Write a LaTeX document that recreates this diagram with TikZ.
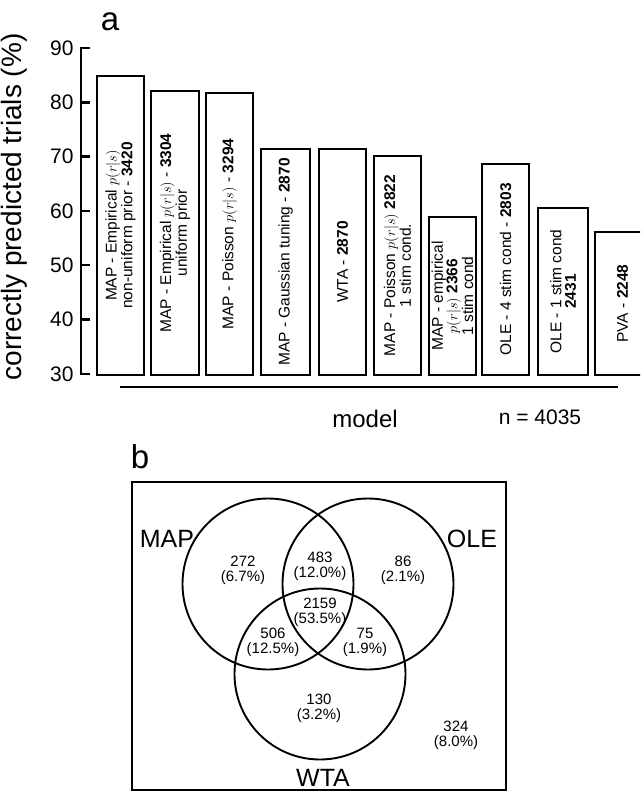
\documentclass[tikz,border=0pt]{standalone}
\usepackage{fontspec}
\setmainfont{Liberation Sans}
\usetikzlibrary{positioning}

\tikzset{
  bar/.style={draw, line width=2.4pt},
  barlabel/.style={rotate=90, align=center, inner sep=0pt,
    font=\fontsize{15.5}{14.5}\selectfont},
  venn/.style={draw, circle, line width=1.9pt, minimum size=171pt, inner sep=0pt},
  count/.style={align=center, font=\fontsize{15}{15}\selectfont},
  setname/.style={font=\fontsize{25}{25}\selectfont},
  panel/.style={font=\fontsize{33}{33}\selectfont},
}

\begin{document}
\begin{tikzpicture}[x=1pt, y=-1pt]
    \path[use as bounding box] (0,0) rectangle (640,792);
    \clip (0,0) rectangle (640,792);

    % panel a
    \node[panel] (pa) at (110,22) {a};
    \draw[line width=2.4pt] (90,48) -- (81,48) -- (81,374) -- (90,374);
    \foreach \v [count=\i from 0] in {90,80,...,30} {
      \draw[line width=2.4pt] (81,48+\i*54.3) -- (90,48+\i*54.3);
      \node[anchor=east, font=\fontsize{21}{21}\selectfont] (tick\v) at (77,48+\i*54.3) {\v};
    }
    \node[rotate=90, anchor=base, font=\fontsize{28}{28}\selectfont] (ylab) at (21,207)
      {correctly predicted trials (\%)};

    \foreach \l/\r/\t/\txt [count=\n] in {
      97/144/76/{MAP - Empirical $p(r|s)$\\non-uniform prior - \textbf{3420}},
      151/199/91/{MAP - Empirical $p(r|s)$ - \textbf{3304}\\uniform prior},
      206/253/93/{MAP - Poisson $p(r|s)$ - \textbf{3294}},
      261/310/149/{MAP - Gaussian tuning - \textbf{2870}},
      319/366/149/{WTA - \textbf{2870}},
      374/421/156/{MAP - Poisson $p(r|s)$ \textbf{2822}\\1 stim cond.},
      429/476/217/{\baselineskip=12pt MAP - empirical\\$p(r|s)$ \textbf{2366}\\1 stim cond},
      482/529/164/{OLE - 4 stim cond - \textbf{2803}},
      538/588/208/{OLE - 1 stim cond\\\textbf{2431}},
      595/650/232/{PVA - \textbf{2248}}} {
      \draw[bar] (\l,375) rectangle (\r,\t);
      \node[barlabel] (bar\n) at ({(\l+\r)/2},{(\t+375)/2}) {\txt};
    }
    \draw[line width=2.4pt] (120,387) coordinate (ml) -- (618,387) coordinate (mr);
    \node[font=\fontsize{24}{24}\selectfont] (model) at (365,419) {model};
    \node[font=\fontsize{21}{21}\selectfont] (ntot) at (540,417) {n = 4035};

    % panel b
    \node[panel] (pb) at (140,457) {b};
    \draw[line width=1.9pt] (132,482) rectangle (506,790);
    \node[venn] (map) at (268,584) {};
    \node[venn] (ole) at (368,584) {};
    \node[venn] (wta) at (320,674) {};
    \node[setname] (lmap) at (167,539) {MAP};
    \node[setname] (lole) at (472,539) {OLE};
    \node[setname] (lwta) at (323,778) {WTA};

    \node[count] (c1) at (243,570) {272\\(6.7\%)};
    \node[count] (c2) at (320,566) {483\\(12.0\%)};
    \node[count] (c3) at (403,570) {86\\(2.1\%)};
    \node[count] (c4) at (320,612) {2159\\(53.5\%)};
    \node[count] (c5) at (273,642) {506\\(12.5\%)};
    \node[count] (c6) at (365,642) {75\\(1.9\%)};
    \node[count] (c7) at (319,708) {130\\(3.2\%)};
    \node[count] (c8) at (456,735) {324\\(8.0\%)};
\end{tikzpicture}
\end{document}
